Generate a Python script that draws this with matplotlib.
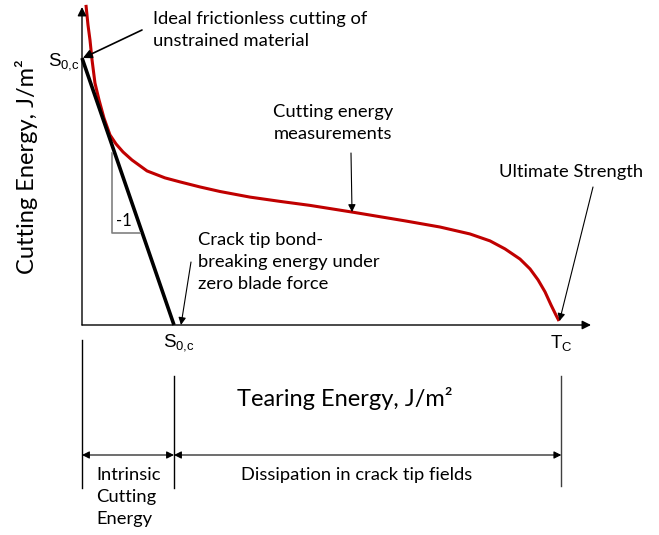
import matplotlib
matplotlib.use("Agg")
import matplotlib.pyplot as plt

plt.rcParams["mathtext.fontset"] = "custom"
plt.rcParams["mathtext.rm"] = "Liberation Sans"
plt.rcParams["mathtext.it"] = "Liberation Sans"

# intercepts of the ideal frictionless cutting line (same units on both axes)
S0C = 1.0
TC = 5.21

tearing = [0.043, 0.065, 0.087, 0.109, 0.141, 0.185, 0.239, 0.304, 0.370,
           0.446, 0.543, 0.707, 0.902, 1.065, 1.283, 1.500, 1.826, 2.152,
           2.478, 2.935, 3.511, 3.891, 4.217, 4.435, 4.598, 4.761, 4.870,
           4.957, 5.033, 5.098, 5.152, 5.185]
cutting = [1.199, 1.124, 1.067, 0.993, 0.906, 0.843, 0.775, 0.712, 0.678,
           0.648, 0.618, 0.577, 0.551, 0.536, 0.517, 0.500, 0.479, 0.463,
           0.448, 0.423, 0.390, 0.367, 0.341, 0.315, 0.285, 0.247, 0.210,
           0.169, 0.124, 0.075, 0.037, 0.015]

ideal_x = [0.0, S0C]
ideal_y = [S0C, 0.0]

FONT = "Lato"
RED = "#C00000"
FS = 13.2
LS = 1.45


def at(px, py):
    # layout helper: figure pixel -> data units
    return ((px - 82) / 92, (325 - py) / 267)


fig = plt.figure(figsize=(6.59, 5.35), dpi=100)
ax = fig.add_axes([0, 0, 1, 1])
ax.set_xlim(-82 / 92, 577 / 92)
ax.set_ylim(-210 / 267, 325 / 267)
ax.axis("off")

head = dict(arrowstyle="-|>", color="black", lw=1.0, mutation_scale=13,
            shrinkA=0, shrinkB=0)

# axes with arrow heads
ax.annotate("", xy=(0, at(0, 7)[1]), xytext=(0, 0), arrowprops=head)
ax.annotate("", xy=(at(591, 0)[0], 0), xytext=(0, 0), arrowprops=head)

# curves
ax.plot(tearing, cutting, color=RED, lw=2.2, solid_capstyle="butt")
ax.plot(ideal_x, ideal_y, color="black", lw=2.6, solid_capstyle="butt")

# slope triangle
tx0, ty0 = at(112, 233)
tx1, ty1 = at(140, 153)
ax.plot([tx0, tx0, tx1], [ty1, ty0, ty0], color="#808080", lw=1.2)
ax.text(*at(124, 221), "-1", fontsize=12, family=FONT, ha="center", va="center")

# intercept labels
ax.text(*at(80, 62), r"S$_{\mathrm{0{,}c}}$", fontsize=13.5, ha="right",
        va="center", family="Liberation Sans")
ax.text(at(163, 0)[0], at(0, 343)[1], r"S$_{\mathrm{0{,}c}}$", fontsize=13.5,
        ha="left", va="center", family="Liberation Sans")
ax.text(TC, at(0, 343)[1], r"T$_{\mathrm{C}}$", fontsize=13.5, ha="center",
        va="center", family="Liberation Sans")

# axis titles
ax.text(*at(27, 167), "Cutting Energy, J/m²", fontsize=17, family=FONT,
        rotation=90, ha="center", va="center")
ax.text(*at(345, 398), "Tearing Energy, J/m²", fontsize=17, family=FONT,
        ha="center", va="center")

# annotations
thin = dict(arrowstyle="-|>", color="black", lw=0.8, mutation_scale=11,
            shrinkA=0, shrinkB=0)
ax.text(*at(153, 30), "Ideal frictionless cutting of\nunstrained material",
        fontsize=FS, family=FONT, ha="left", va="center", linespacing=LS)
ax.annotate("", xy=(0.01, S0C), xytext=at(142, 30),
            arrowprops=dict(head, lw=1.2))

ax.text(*at(333, 123), "Cutting energy\nmeasurements", fontsize=FS,
        family=FONT, ha="center", va="center", linespacing=LS)
ax.annotate("", xy=(2.935, 0.423), xytext=at(351, 153), arrowprops=thin)

ax.text(*at(198, 262), "Crack tip bond-\nbreaking energy under\nzero blade force",
        fontsize=FS, family=FONT, ha="left", va="center", linespacing=LS)
ax.annotate("", xy=(at(181, 0)[0], 0), xytext=at(191, 262), arrowprops=thin)

ax.text(*at(499, 172), "Ultimate Strength", fontsize=FS, family=FONT,
        ha="left", va="center")
ax.annotate("", xy=(5.19, 0.015), xytext=at(593, 187), arrowprops=thin)

# energy partition below the axis
ax.plot([0, 0], [at(0, 340)[1], at(0, 488)[1]], color="black", lw=1.0)
ax.plot([S0C, S0C], [at(0, 376)[1], at(0, 488)[1]], color="black", lw=1.0)
ax.plot([TC, TC], [at(0, 376)[1], at(0, 486)[1]], color="#404040", lw=1.0)
yb = at(0, 455)[1]
both = dict(arrowstyle="<|-|>", color="black", lw=0.8, mutation_scale=11,
            shrinkA=0, shrinkB=0)
ax.annotate("", xy=(S0C, yb), xytext=(0, yb), arrowprops=both)
ax.annotate("", xy=(TC, yb), xytext=(S0C, yb), arrowprops=both)
ax.text(*at(96, 497), "Intrinsic\nCutting\nEnergy", fontsize=FS, family=FONT,
        ha="left", va="center", linespacing=LS)
ax.text(*at(357, 475), "Dissipation in crack tip fields", fontsize=FS,
        family=FONT, ha="center", va="center")

fig.savefig("out.png", dpi=100)
